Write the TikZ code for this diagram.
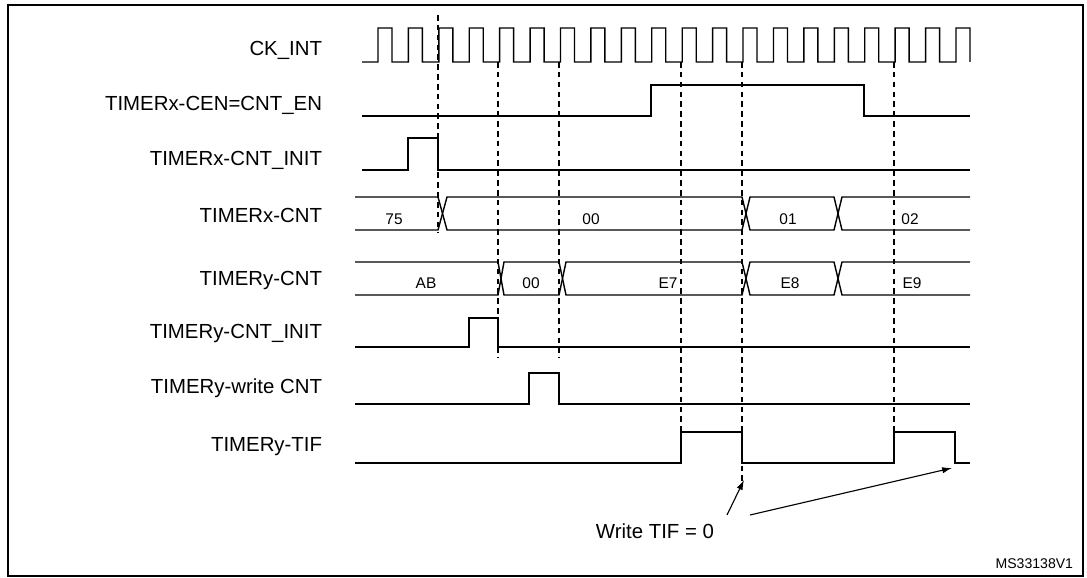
\documentclass[tikz,border=0pt]{standalone}
\usepackage{fontspec}
\setmainfont{Liberation Sans}
\usepackage{tikz}
\usetikzlibrary{arrows.meta}

\begin{document}
\begin{tikzpicture}
[%%%%%%%%%%%%%%%%%%%%%%%%%%%%%%
x=0.025cm,y=-0.025cm,
sig/.style={line width=1pt,line join=miter},
guide/.style={dashed,line width=0.8pt,dash pattern=on 4pt off 3pt},
signame/.style={anchor=east,font=\fontsize{14.5}{16}\selectfont},
val/.style={font=\fontsize{11}{13}\selectfont},
note/.style={font=\fontsize{14.5}{16}\selectfont},
pointer/.style={line width=0.8pt,-{Latex[length=7pt,width=4.5pt]}},
]%%%%%%%%%%%%%%%%%%%%%%%%%%%%%%
\useasboundingbox (0,0) rectangle (1087,578);
\draw[line width=1pt] (8,5) -- (1083,5) -- (1083,576) -- (8,576) -- cycle;

% signal names
\node[signame] (ck) at (327,50){CK\_INT};
\node[signame] (cen) at (327,105){TIMERx-CEN=CNT\_EN};
\node[signame] (xinit) at (327,160){TIMERx-CNT\_INIT};
\node[signame] (xcnt) at (327,215){TIMERx-CNT};
\node[signame] (ycnt) at (327,280){TIMERy-CNT};
\node[signame] (yinit) at (327,333){TIMERy-CNT\_INIT};
\node[signame] (ywr) at (327,388){TIMERy-write CNT};
\node[signame] (tif) at (327,447){TIMERy-TIF};

% clock
\draw[sig] (362,62) -- (378,62)
\foreach \k in {0,1,...,18}{
 -- ({378+30.42*\k},28) -- ({392+30.42*\k},28) -- ({392+30.42*\k},62) -- ({408.42+30.42*\k},62)
} -- (956,28) -- (970,28) -- (970,62);

% single lines
\draw[sig] (362,116) -- (651,116) -- (651,85) -- (864,85) -- (864,116) -- (970,116);
\draw[sig] (362,170) -- (408,170) -- (408,138) -- (438,138) -- (438,170) -- (970,170);
\draw[sig] (355,347) -- (469,347) -- (469,318) -- (498,318) -- (498,347) -- (970,347);
\draw[sig] (355,404) -- (529,404) -- (529,373) -- (559,373) -- (559,404) -- (970,404);
\draw[sig] (355,463) -- (681,463) -- (681,432) -- (742,432) -- (742,463) -- (894,463)
 -- (894,432) -- (955,432) -- (955,463) -- (970,463);

% buses
\draw[sig] (355,197) -- (438,197) -- (447,230) -- (742,230) -- (750,197) -- (834,197) -- (842,230) -- (970,230);
\draw[sig] (355,230) -- (438,230) -- (447,197) -- (742,197) -- (750,230) -- (834,230) -- (842,197) -- (970,197);
\draw[sig] (355,262) -- (498,262) -- (504,295) -- (559,295) -- (566,262) -- (742,262) -- (750,295) -- (834,295) -- (842,262) -- (970,262);
\draw[sig] (355,295) -- (498,295) -- (504,262) -- (559,262) -- (566,295) -- (742,295) -- (750,262) -- (834,262) -- (842,295) -- (970,295);
\node[val] (x75) at (394,219){75};
\node[val] (x00) at (591,219){00};
\node[val] (x01) at (788,219){01};
\node[val] (x02) at (910,219){02};
\node[val] (yab) at (426,283){AB};
\node[val] (y00) at (531,283){00};
\node[val] (ye7) at (668,283){E7};
\node[val] (ye8) at (790,283){E8};
\node[val] (ye9) at (912,283){E9};

% guides
\draw[guide] (438,15) -- (438,232);
\draw[guide] (498,62) -- (498,358);
\draw[guide] (559,62) -- (559,358);
\draw[guide] (681,62) -- (681,463);
\draw[guide] (742,62) -- (742,484);
\draw[guide] (894,62) -- (894,432);

% note
\node[note] (wtif) at (655,531){Write TIF = 0};
\coordinate (p1) at (744,480);
\coordinate (p2) at (952,468);
\draw[pointer] (727,515) -- (p1);
\draw[pointer] (750,515) -- (p2);
\node[anchor=east,font=\fontsize{10}{12}\selectfont] (ref) at (1078,564){MS33138V1};
\end{tikzpicture}
\end{document}
